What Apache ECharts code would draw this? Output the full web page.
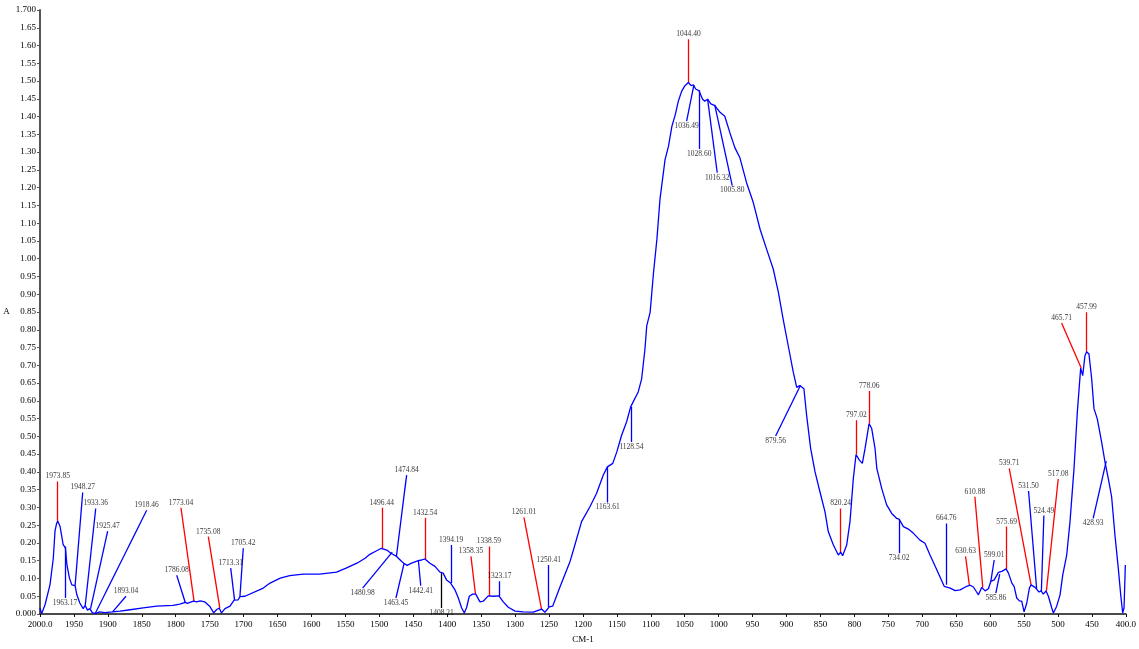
<!DOCTYPE html>
<html>
<head>
<meta charset="utf-8">
<script src="https://cdn.jsdelivr.net/npm/echarts@6/dist/echarts.min.js"></script>
<style>
  html, body { margin: 0; padding: 0; background: #fff; }
  #chart-container { width: 1139px; height: 649px; }
</style>
</head>
<body>
<div id="chart-container"></div>
<script>
// spectrum (cm-1 / absorbance)
const wavenumbers = [
  2000, 1997.5, 1992.6, 1985.3, 1980.4, 1977.9, 1975.5, 1973.9, 1970.5, 1968, 1966, 1964, 1962.5,
  1960.3, 1956.6, 1953.1, 1950.5, 1948.3, 1945.7, 1941.3, 1936.4, 1933.4, 1930, 1926.5, 1923,
  1918.5, 1912, 1905, 1893, 1882, 1867, 1848, 1828, 1804, 1794, 1786, 1783, 1774, 1769, 1764,
  1757, 1750, 1744, 1740, 1736, 1732.5, 1727.5, 1720, 1714, 1708, 1705.4, 1698, 1671, 1661,
  1646, 1632, 1612, 1588, 1563, 1549, 1533, 1521, 1514, 1504, 1497, 1489, 1483, 1480.5, 1474.5,
  1467, 1464, 1459, 1452.5, 1442.6, 1437.7, 1432.8, 1425.4, 1418, 1410.7, 1406, 1401, 1395,
  1388.6, 1383.6, 1378.7, 1374.8, 1371.3, 1367.5, 1362.5, 1358, 1351.7, 1346.9, 1339.5, 1332,
  1323.8, 1317.4, 1310, 1300, 1288, 1273, 1261, 1256, 1249.6, 1244.6, 1234, 1219, 1214, 1202,
  1189.7, 1180, 1170, 1164, 1156, 1150, 1143, 1135.6, 1129.7, 1126, 1118.5, 1113.5, 1108.6,
  1106, 1101, 1096, 1091, 1086.5, 1079, 1074, 1069, 1064, 1059.5, 1054.6, 1049.7, 1044.6,
  1040.7, 1037.5, 1033.5, 1029, 1023.7, 1020.4, 1016.4, 1011.5, 1005.6, 998, 991, 983.4, 976,
  968.7, 958.9, 949, 939, 929.4, 919.6, 912, 905, 897.5, 890, 885, 880.3, 877.8, 874.4, 870.4,
  864.5, 858, 850.8, 843.4, 838.5, 831, 823.7, 820.2, 817.3, 811.4, 806.5, 801.6, 797.6, 792.7,
  788.3, 784.3, 778.4, 774.5, 769.6, 767, 759.7, 752.5, 745, 737.6, 734.2, 727.8, 720.5, 713,
  703.4, 696, 688.6, 678.8, 671, 667.7, 664.8, 658.9, 651.5, 644.2, 634.4, 629.5, 624.6, 620.6,
  617.2, 612.3, 607.4, 602.5, 599, 594, 587.8, 585.3, 582.8, 576.5, 573, 568, 564.7, 560.8,
  556.9, 553.5, 550, 546, 542.2, 539.7, 533.8, 531.4, 528, 525, 521.6, 517.6, 514.2, 509.2,
  506.8, 501.9, 497, 493, 487.2, 482.3, 476.4, 471.5, 466.6, 463.6, 460.3, 457.8, 454.4, 450.4,
  447, 442.2, 435.7, 430.8, 428.3, 425.9, 421, 416.1, 411.2, 407.6, 404.7, 402.7, 400.8
];
const absorbance = [
  0.017, 0.001, 0.026, 0.082, 0.157, 0.233, 0.255, 0.262, 0.247, 0.219, 0.196, 0.195, 0.185,
  0.138, 0.101, 0.082, 0.078, 0.080, 0.054, 0.031, 0.015, 0.024, 0.011, 0.015, 0.004,
  0.001, 0.006, 0.004, 0.006, 0.008, 0.012, 0.017, 0.022, 0.024, 0.028, 0.033, 0.030, 0.036, 0.034, 0.037,
  0.034, 0.022, 0.003, 0.012, 0.017, 0.003, 0.015, 0.022, 0.039, 0.040, 0.049, 0.050, 0.073, 0.087,
  0.101, 0.108, 0.112, 0.112, 0.118, 0.129, 0.143, 0.157, 0.168, 0.178, 0.185, 0.180, 0.171, 0.174, 0.162,
  0.148, 0.143, 0.137, 0.143, 0.150, 0.152, 0.155, 0.143, 0.134, 0.118, 0.115, 0.096, 0.087,
  0.068, 0.045, 0.017, 0.003, 0.019, 0.050, 0.056, 0.056, 0.034, 0.036, 0.051, 0.050,
  0.051, 0.034, 0.019, 0.008, 0.006, 0.005, 0.014, 0.005, 0.020, 0.022, 0.075, 0.148, 0.180, 0.260,
  0.302, 0.339, 0.391, 0.414, 0.424, 0.457, 0.503, 0.541, 0.583, 0.597, 0.625, 0.662, 0.746,
  0.811, 0.849, 0.961, 1.055, 1.167, 1.279, 1.316, 1.372, 1.405, 1.443, 1.471, 1.487, 1.496,
  1.487, 1.489, 1.477, 1.473, 1.449, 1.443, 1.449, 1.436, 1.431, 1.412, 1.401, 1.354, 1.312,
  1.284, 1.214, 1.158, 1.083, 1.027, 0.971, 0.905, 0.830, 0.755, 0.680, 0.638, 0.643, 0.643, 0.634, 0.559,
  0.466, 0.400, 0.344, 0.288, 0.232, 0.194, 0.166, 0.174, 0.164, 0.194, 0.260, 0.381, 0.449, 0.433,
  0.424, 0.466, 0.536, 0.522, 0.466, 0.410, 0.353, 0.307, 0.283, 0.269, 0.267, 0.246, 0.239, 0.227,
  0.208, 0.199, 0.166, 0.125, 0.092, 0.078, 0.082, 0.073, 0.066, 0.068, 0.078, 0.081, 0.076, 0.064,
  0.054, 0.075, 0.065, 0.071, 0.092, 0.096, 0.117, 0.112, 0.120, 0.127, 0.115, 0.087, 0.078, 0.045,
  0.037, 0.036, 0.006, 0.031, 0.073, 0.082, 0.075, 0.071, 0.062, 0.065, 0.056, 0.065, 0.050, 0.017,
  0.003, 0.022, 0.054, 0.110, 0.166, 0.260, 0.410, 0.569, 0.692, 0.671, 0.727, 0.738, 0.732, 0.662,
  0.578, 0.550, 0.484, 0.428, 0.433, 0.381, 0.330, 0.222, 0.129, 0.054, 0.003, 0.017, 0.138
];

// peak labels: [peak cm-1, absorbance at peak, leader end cm-1, leader end absorbance, colour, label side]
const peakLabels = [
  ['1973.85', 0.262, 1973.85, 0.373, 'red', 'top'],
  ['1963.17', 0.190, 1963.17, 0.045, 'blue', 'bottom'],
  ['1948.27', 0.080, 1937.1, 0.342, 'blue', 'top'],
  ['1933.36', 0.024, 1917.9, 0.297, 'blue', 'top'],
  ['1925.47', 0.015, 1900.3, 0.233, 'blue', 'top'],
  ['1918.46', 0.002, 1842.8, 0.292, 'blue', 'top'],
  ['1893.04', 0.006, 1873.3, 0.050, 'blue', 'top'],
  ['1786.08', 0.033, 1798.6, 0.109, 'blue', 'top'],
  ['1773.04', 0.036, 1792.3, 0.299, 'red', 'top'],
  ['1735.08', 0.017, 1752.0, 0.218, 'red', 'top'],
  ['1713.31', 0.039, 1719.0, 0.129, 'blue', 'top'],
  ['1705.42', 0.049, 1700.5, 0.185, 'blue', 'top'],
  ['1496.44', 0.185, 1496.44, 0.299, 'red', 'top'],
  ['1480.98', 0.174, 1524.6, 0.073, 'blue', 'bottom'],
  ['1474.84', 0.162, 1459.8, 0.391, 'blue', 'top'],
  ['1463.45', 0.143, 1475.5, 0.045, 'blue', 'bottom'],
  ['1442.41', 0.150, 1439.0, 0.080, 'blue', 'bottom'],
  ['1432.54', 0.155, 1432.54, 0.271, 'red', 'top'],
  ['1408.21', 0.115, 1408.21, 0.017, 'black', 'bottom'],
  ['1394.19', 0.087, 1394.19, 0.194, 'blue', 'top'],
  ['1358.35', 0.056, 1365.0, 0.162, 'red', 'top'],
  ['1338.59', 0.051, 1338.59, 0.190, 'red', 'top'],
  ['1323.17', 0.051, 1323.17, 0.092, 'blue', 'top'],
  ['1261.01', 0.014, 1286.9, 0.272, 'red', 'top'],
  ['1250.41', 0.020, 1250.41, 0.138, 'blue', 'top'],
  ['1163.61', 0.414, 1163.61, 0.314, 'blue', 'bottom'],
  ['1128.54', 0.583, 1128.54, 0.484, 'blue', 'bottom'],
  ['1044.40', 1.497, 1044.40, 1.618, 'red', 'top'],
  ['1036.49', 1.489, 1047.2, 1.387, 'blue', 'bottom'],
  ['1028.60', 1.474, 1028.60, 1.309, 'blue', 'bottom'],
  ['1016.32', 1.449, 1002.1, 1.242, 'blue', 'bottom'],
  ['1005.80', 1.433, 980.0, 1.206, 'blue', 'bottom'],
  ['879.56', 0.643, 916.1, 0.501, 'blue', 'bottom'],
  ['820.24', 0.174, 820.24, 0.297, 'red', 'top'],
  ['797.02', 0.449, 797.02, 0.545, 'red', 'top'],
  ['778.06', 0.536, 778.06, 0.628, 'red', 'top'],
  ['734.02', 0.267, 734.02, 0.171, 'blue', 'bottom'],
  ['664.76', 0.082, 664.76, 0.255, 'blue', 'top'],
  ['630.63', 0.081, 636.2, 0.162, 'red', 'top'],
  ['610.88', 0.075, 622.5, 0.330, 'red', 'top'],
  ['599.01', 0.092, 594.0, 0.152, 'blue', 'top'],
  ['585.86', 0.112, 591.6, 0.059, 'blue', 'bottom'],
  ['575.69', 0.127, 575.69, 0.246, 'red', 'top'],
  ['539.71', 0.082, 571.9, 0.410, 'red', 'top'],
  ['531.50', 0.071, 543.4, 0.346, 'blue', 'top'],
  ['524.49', 0.065, 520.8, 0.277, 'blue', 'top'],
  ['517.08', 0.065, 499.7, 0.380, 'red', 'top'],
  ['465.71', 0.692, 494.7, 0.819, 'red', 'top'],
  ['457.99', 0.738, 457.99, 0.849, 'red', 'top'],
  ['428.93', 0.430, 448.2, 0.269, 'blue', 'bottom']
];

const colours = { red: '#ff0000', blue: '#0000ff', black: '#000000' };
const serif = '"Liberation Serif", "Times New Roman", serif';

const spectrum = wavenumbers.map((w, i) => [w, absorbance[i]]);
const leaders = peakLabels.map((p) => ({
  coords: [[Number(p[0]), p[1]], [p[2], p[3]]],
  lineStyle: { color: colours[p[4]] }
}));
const tips = peakLabels.map((p) => ({
  name: p[0],
  value: [p[2], p[3]],
  label: { position: p[5] }
}));

const dom = document.getElementById('chart-container');
const myChart = window.echarts.init(dom, null, { renderer: 'canvas' });
const option = {
  animation: false,
  backgroundColor: '#fff',
  grid: { left: 40, right: 13, top: 10, bottom: 33, containLabel: false },
  xAxis: {
    type: 'value',
    inverse: true,
    min: 400,
    max: 2000,
    interval: 50,
    name: 'CM-1',
    nameLocation: 'middle',
    nameGap: 21,
    nameTextStyle: { fontFamily: serif, fontSize: 9, color: '#000' },
    axisLine: { lineStyle: { color: '#111', width: 1.5 } },
    axisTick: { length: 3, lineStyle: { color: '#111' } },
    axisLabel: {
      fontFamily: serif,
      fontSize: 9,
      color: '#000',
      margin: 6,
      formatter(v) { return (v === 2000 || v === 400) ? v.toFixed(1) : String(v); }
    },
    splitLine: { show: false }
  },
  yAxis: {
    type: 'value',
    min: 0,
    max: 1.7,
    interval: 0.05,
    name: 'A',
    nameLocation: 'middle',
    nameRotate: 0,
    nameGap: 28,
    nameTextStyle: { fontFamily: serif, fontSize: 9, color: '#000', padding: [12, 0, 0, 0] },
    axisLine: { show: true, lineStyle: { color: '#555', width: 2 } },
    axisTick: { show: true, length: 3, lineStyle: { color: '#555' } },
    axisLabel: {
      fontFamily: serif,
      fontSize: 9,
      color: '#000',
      margin: 4,
      padding: [0, 0, 6, 0],
      formatter(v) {
        if (Math.abs(v) < 1e-9 || Math.abs(v - 1.7) < 1e-9) return v.toFixed(3);
        return v.toFixed(2);
      }
    },
    splitLine: { show: false }
  },
  series: [
    {
      name: 'spectrum',
      type: 'line',
      data: spectrum,
      showSymbol: false,
      symbol: 'none',
      lineStyle: { color: '#0000ff', width: 1.3 },
      z: 3
    },
    {
      name: 'leaders',
      type: 'lines',
      coordinateSystem: 'cartesian2d',
      data: leaders,
      lineStyle: { width: 1.3, opacity: 1 },
      z: 2
    },
    {
      name: 'peak labels',
      type: 'scatter',
      data: tips,
      symbolSize: 0,
      label: {
        show: true,
        formatter: '{b}',
        distance: 1,
        fontFamily: serif,
        fontSize: 7.5,
        color: '#000'
      },
      z: 4
    }
  ]
};
myChart.setOption(option);
window.addEventListener('resize', myChart.resize);
</script>
</body>
</html>
